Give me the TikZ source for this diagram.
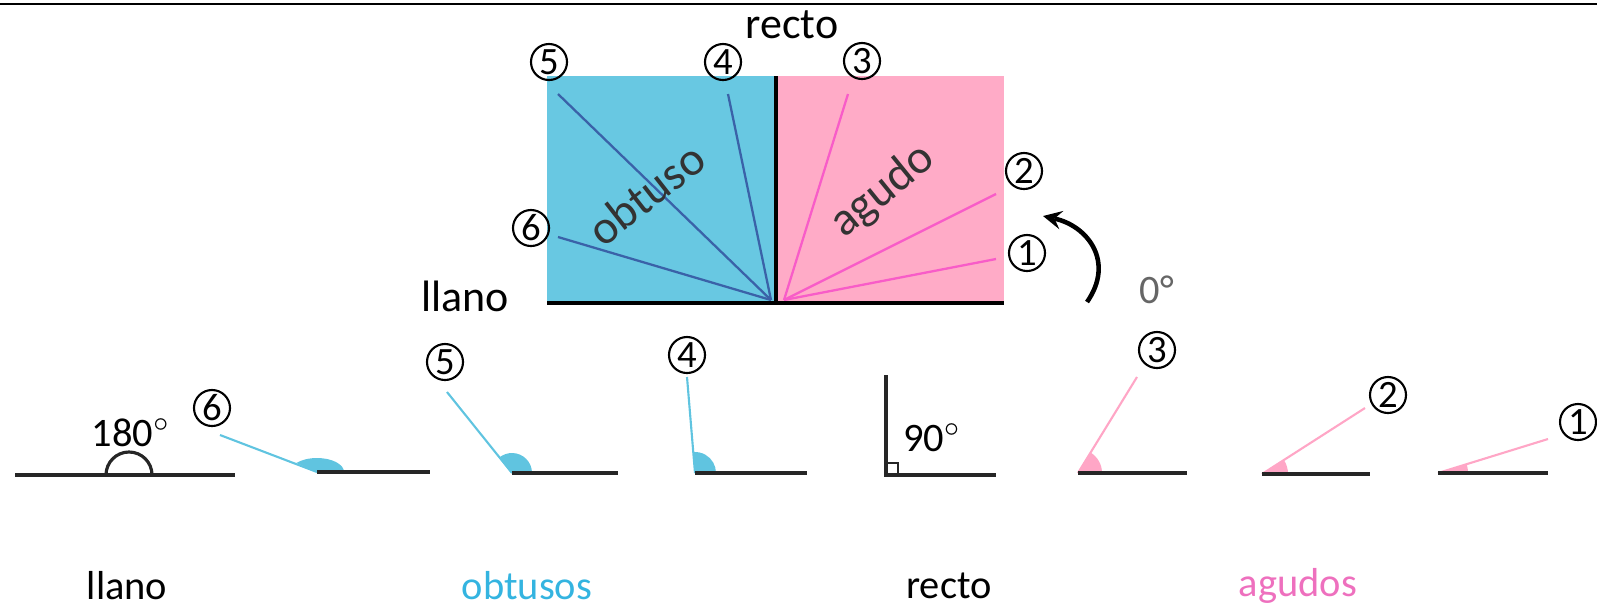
\documentclass[tikz,border=0pt]{standalone}
\usepackage{fontspec}
\setmainfont{Carlito}
\usepackage{xcolor}
\usepackage{tikz}
\usetikzlibrary{arrows, positioning}
\definecolor{obtfill}{RGB}{104,200,226}
\definecolor{agufill}{RGB}{255,171,199}
\definecolor{obtray}{RGB}{58,98,168}
\definecolor{aguray}{RGB}{248,92,200}
\definecolor{obtlight}{RGB}{96,196,224}
\definecolor{agulight}{RGB}{255,166,198}
\definecolor{obttext}{RGB}{52,180,224}
\definecolor{agutext}{RGB}{238,112,190}
\tikzstyle{num} = [circle, draw=black, line width=0.6pt, minimum size=0.36cm, inner sep=0pt, font=\fontsize{11}{11}\selectfont]
\tikzstyle{label} = [inner sep=0pt, font=\fontsize{11.5}{12}\selectfont]
\tikzstyle{bigword} = [inner sep=0pt, font=\fontsize{13.5}{14}\selectfont, text=black!80]
\tikzstyle{edge} = [line width=1.4pt, black]
\tikzstyle{leg} = [line width=0.9pt, black!85]
\tikzstyle{blueray} = [line width=0.65pt, obtray]
\tikzstyle{pinkray} = [line width=0.65pt, aguray]
\tikzstyle{bray} = [line width=0.6pt, obtlight]
\tikzstyle{pray} = [line width=0.6pt, agulight]
\tikzstyle{arrow} = [line width=1.3pt,->,>=stealth]

\begin{document}
\begin{tikzpicture}[x=0.01cm, y=-0.01cm]
            \useasboundingbox (0,0) rectangle (1597,608);
            \draw[line width=0.6pt] (0,4) -- (1597,4);

            % Top figure
            \fill[obtfill] (547,76) rectangle (776,303);
            \fill[agufill] (776,76) rectangle (1004,303);
            \coordinate (ob) at (771,300);
            \coordinate (ag) at (784,300);
            \coordinate (t5) at (558,94);
            \coordinate (t4) at (728,94);
            \coordinate (t6) at (558,237);
            \coordinate (t3) at (848,94);
            \coordinate (t2) at (996,194);
            \coordinate (t1) at (996,259);
            \draw[blueray] (ob) -- (t5);
            \draw[blueray] (ob) -- (t4);
            \draw[blueray] (ob) -- (t6);
            \draw[pinkray] (ag) -- (t3);
            \draw[pinkray] (ag) -- (t2);
            \draw[pinkray] (ag) -- (t1);
            \draw[edge] (776,76) -- (776,303);
            \draw[edge] (547,303) -- (1004,303);
            \node[num] (n5) at (549,62) {5};
            \node[num] (n4) at (723,62) {4};
            \node[num] (n3) at (862,61) {3};
            \node[num] (n2) at (1024,171) {2};
            \node[num] (n1) at (1027,253) {1};
            \node[num] (n6) at (531,228) {6};
            \node[label, font=\fontsize{12.5}{13}\selectfont] (recto) at (792,25) {recto};
            \node[label, font=\fontsize{12.5}{13}\selectfont] (llano) at (465,296) {llano};
            \node[bigword, rotate=38] (obtuso) at (646,194) {obtuso};
            \node[bigword, rotate=39] (agudo) at (883,191) {agudo};
            \node[label, text=black!60] (zero) at (1157,290) {0°};
            \coordinate (tail) at (1087,302);
            \coordinate (head) at (1043,216);
            \draw[arrow] (tail) .. controls (1115,262) and (1088,226) .. (head);

            % Bottom row
            \draw[leg] (15,475) -- (235,475);
            \draw[leg] (106,475) arc[start angle=180, end angle=0, radius=0.23cm];
            \node[label] (flat) at (131,433) {180$^{\circ}$};

            \coordinate (v6) at (317,472);
            \fill[obtlight] (v6) -- ++(0:0.27cm) arc[start angle=0, end angle=140, x radius=0.27cm, y radius=0.14cm] -- cycle;
            \draw[bray] (v6) -- (220,435);
            \draw[leg] (v6) -- (430,472);
            \node[num] (b6) at (212,408) {6};

            \coordinate (v5) at (512,473);
            \fill[obtlight] (v5) -- ++(0:0.2cm) arc[start angle=0, end angle=129, radius=0.2cm] -- cycle;
            \draw[bray] (v5) -- (447,392);
            \draw[leg] (v5) -- (618,473);
            \node[num] (b5) at (445,362) {5};

            \coordinate (v4) at (695,473);
            \fill[obtlight] (v4) -- ++(0:0.21cm) arc[start angle=0, end angle=95, radius=0.21cm] -- cycle;
            \draw[bray] (v4) -- (687,377);
            \draw[leg] (v4) -- (807,473);
            \node[num] (b4) at (687,355) {4};

            \coordinate (v0) at (886,475);
            \draw[leg] (886,375) -- (v0) -- (996,475);
            \draw[leg, line width=0.7pt] (886,463) rectangle (898,475);
            \node[label] (right) at (932,438) {90$^{\circ}$};

            \coordinate (v3) at (1078,473);
            \fill[agulight] (v3) -- ++(0:0.24cm) arc[start angle=0, end angle=58, radius=0.24cm] -- cycle;
            \draw[pray] (v3) -- (1137,377);
            \draw[leg] (v3) -- (1187,473);
            \node[num] (b3) at (1157,350) {3};

            \coordinate (v2) at (1262,474);
            \fill[agulight] (v2) -- ++(0:0.26cm) arc[start angle=0, end angle=33, radius=0.26cm] -- cycle;
            \draw[pray] (v2) -- (1365,408);
            \draw[leg] (v2) -- (1370,474);
            \node[num] (b2) at (1388,395) {2};

            \coordinate (v1) at (1438,473);
            \fill[agulight] (v1) -- ++(0:0.3cm) arc[start angle=0, end angle=17, radius=0.3cm] -- cycle;
            \draw[pray] (v1) -- (1548,439);
            \draw[leg] (v1) -- (1548,473);
            \node[num] (b1) at (1578,422) {1};

            % Names
            \node[label] (llanos) at (127,586) {llano};
            \node[label, text=obttext] (obtusos) at (527,586) {obtusos};
            \node[label] (rectos) at (949,586) {recto};
            \node[label, text=agutext] (agudos) at (1298,586) {agudos};
        \end{tikzpicture}
\end{document}
